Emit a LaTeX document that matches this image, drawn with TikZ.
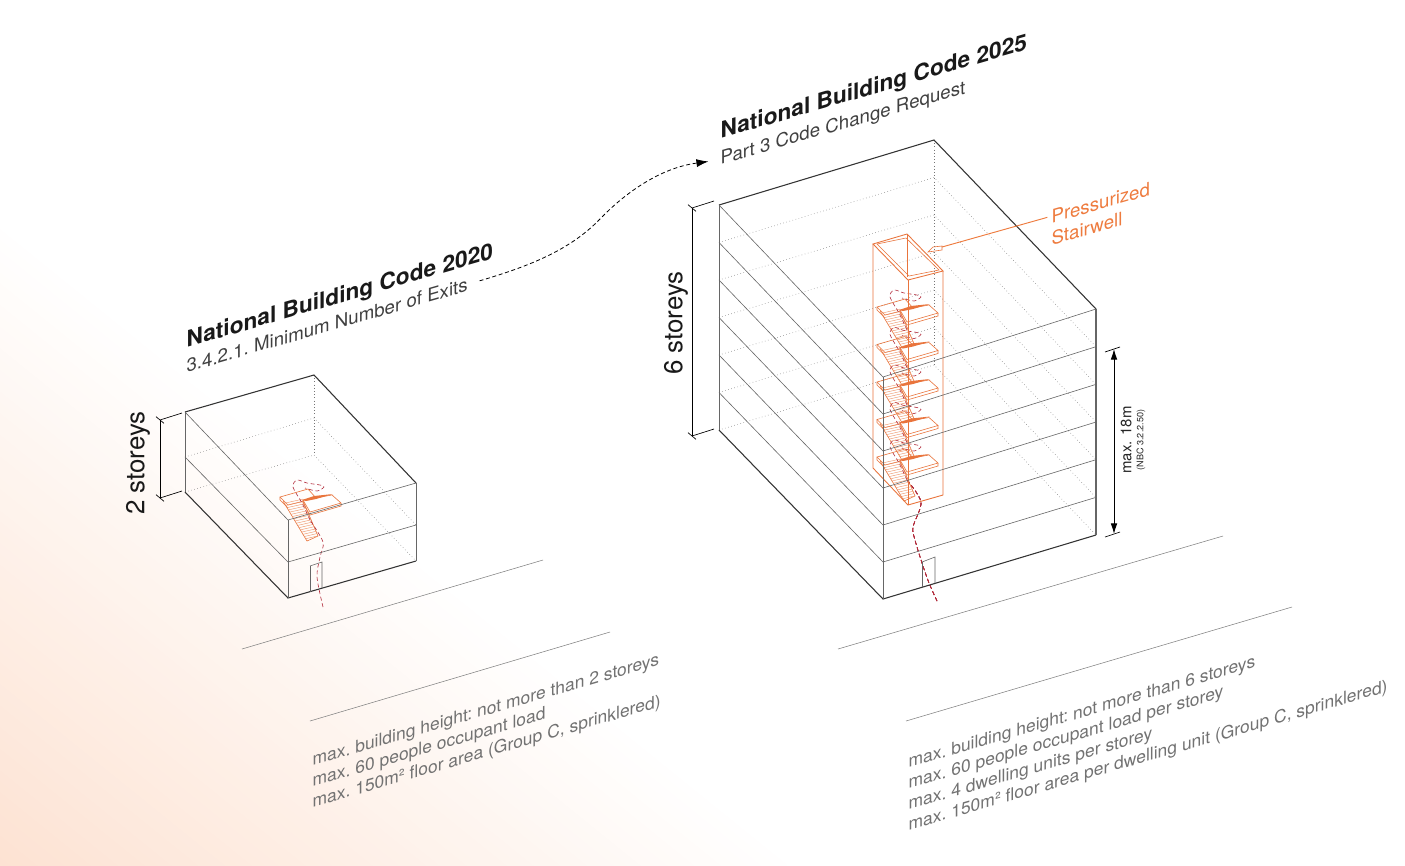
\documentclass[tikz,border=0pt]{standalone}
\usepackage{fontspec}
\setmainfont{TeX Gyre Heros}
\usetikzlibrary{arrows.meta}
\definecolor{peach}{HTML}{FDE2D2}
\definecolor{stairorange}{HTML}{E9743C}
\definecolor{labelorange}{HTML}{EE7B3E}
\definecolor{routered}{HTML}{B22A3A}
\definecolor{textgray}{HTML}{727272}
\definecolor{edgegray}{HTML}{666666}
\newcommand{\stairset}{%
\draw[stairline] (280,497) -- (308,489) -- (316,498) -- (288,505) -- cycle;
\draw[stairline] (280,497) -- (280,500) -- (288,508);
\draw[stairline,fill=white] (303,500) -- (332,495) -- (341,503) -- (310,512) -- cycle;
\draw[stairline] (303,500) -- (303,503) -- (310,515) -- (341,506) -- (341,503);
\fill[stairorange] (302,500) -- (314,496) -- (333,494) -- (316,499) -- (306,501) -- cycle;
\draw[stairline] (283,501) -- (307,541) -- (318,536) -- (303,501);
\foreach \t in {1,...,17}
  \draw[treadline] ({283+\t*1.33},{501+\t*2.22}) -- ++({19-\t*0.4},{-4.2+\t*0.08});
\draw[route] plot[smooth] coordinates {(310,520) (302,503) (293,487) (297,480) (307,483) (320,485) (324,487) (317,491) (305,488)};
}
\begin{document}
\begin{tikzpicture}[x=0.75pt,y=-0.75pt,
  hidden/.style={edgegray!90,dotted,line width=0.4pt},
  floorline/.style={edgegray,line width=0.45pt},
  edge/.style={black!80,line width=0.8pt},
  corner/.style={edgegray,line width=0.7pt},
  stairline/.style={stairorange,line width=0.45pt},
  treadline/.style={stairorange!80,line width=0.3pt},
  shaft/.style={stairorange,line width=0.65pt},
  route/.style={routered,densely dashed,line width=0.45pt},
  street/.style={gray,line width=0.4pt},
  iso/.style={transform shape,yslant=0.29,anchor=base west,inner sep=1pt},
  heading/.style={iso,font=\fontsize{17}{20}\selectfont\bfseries\frenchspacing,text=black!90},
  subheading/.style={iso,font=\fontsize{14}{17}\selectfont\frenchspacing,text=black!75},
  rules/.style={iso,font=\fontsize{13.1}{15.7}\selectfont\frenchspacing,text=textgray,align=left},
  orangelabel/.style={iso,font=\fontsize{14}{17}\selectfont,text=labelorange},
  storeylabel/.style={rotate=90,font=\fontsize{19.4}{22}\selectfont,text=black!90}]
\useasboundingbox (0,0) rectangle (1405,865);
\fill[white] (0,0) rectangle (1405,865);
\begin{scope}
\clip (0,0) rectangle (1405,865);
\foreach \i [evaluate=\i as \mix using \i*100/60, evaluate=\i as \px using 400-0.63*\i*8.4, evaluate=\i as \py using 542+0.78*\i*8.4] in {1,...,60}
  \fill[peach!\mix!white] ({\px+1170},{\py+945}) -- ({\px-1170},{\py-945}) -- ({\px-1170-945},{\py-945+1170}) -- ({\px+1170-945},{\py+945+1170}) -- cycle;
\end{scope}
% small building
\draw[hidden] (185,457) -- (314,418) -- (416,525);
\draw[hidden] (185,492) -- (314,455) -- (416,561);
\draw[hidden] (314,375) -- (314,455);
\begin{scope}
\stairset
\end{scope}
\draw[route] plot[smooth] coordinates {(323,607) (317,577) (320,557) (323,542) (310,520)};
\draw[edge] (185,412) -- (314,375) -- (416,483);
\draw[edge] (185,492) -- (288,598) -- (416,561);
\draw[corner] (185,412) -- (185,492);
\draw[corner] (288,520) -- (288,598);
\draw[corner] (416,483) -- (416,561);
\draw[floorline] (185,412) -- (288,520) -- (416,483);
\draw[floorline] (185,457) -- (288,562) -- (416,525);
\draw[floorline] (310,566) -- (322,562) -- (322,588);
\draw[floorline] (310,566) -- (310,592);
% large building
\foreach \n in {1,...,6}
  \draw[hidden] (719,{205+37.5*\n}) -- (934,{140+37.5*\n}) -- (1096,{309+37.67*\n});
\draw[hidden] (934,140) -- (934,365);
\foreach \k in {0,...,4}
  \begin{scope}[shift={(597,{-190+37.5*\k})}]
  \stairset
  \end{scope}
\draw[route] plot[smooth] coordinates {(937,601) (929,583) (922,563) (915,540) (913,527) (921,502) (907,480)};
\draw[shaft] (873,244) -- (907,234) -- (943,271) -- (908,280) -- cycle;
\draw[stairline] (877,244) -- (906,238) -- (939,270) -- (909,276) -- cycle;
\draw[stairline] (907,234) -- (907,277);
\draw[shaft] (873,244) -- (873,468) -- (908,505) -- (943,495) -- (943,271);
\draw[shaft] (908,280) -- (908,505);
\foreach \n in {1,...,5}
  \draw[floorline] (719,{205+37.5*\n}) -- (883,{377+37*\n}) -- (1096,{309+37.67*\n});
\draw[edge] (719,205) -- (934,140) -- (1096,309);
\draw[floorline] (719,205) -- (883,377) -- (1096,309);
\draw[edge] (719,430) -- (883,599) -- (1096,535);
\draw[corner] (719,205) -- (719,430);
\draw[corner] (883,377) -- (883,599);
\draw[corner,line width=1pt] (1096,309) -- (1096,535);
\draw[floorline] (922,562) -- (935,557) -- (935,583);
\draw[floorline] (922,562) -- (922,587);
% street lines
\draw[street] (242,649) -- (543,560);
\draw[street] (310,721) -- (610,632);
\draw[street] (838,649) -- (1223,536);
\draw[street] (906,721) -- (1292,607);
% storey dimensions
\coordinate (twotop) at (160,420);
\coordinate (twobot) at (160,498);
\coordinate (sixtop) at (692,208);
\coordinate (sixbot) at (692,436);
\coordinate (maxtop) at (1114,349);
\coordinate (maxbot) at (1114,534);
\draw[black,line width=0.6pt] (twotop) -- (twobot);
\draw[black,line width=0.6pt] (sixtop) -- (sixbot);
\foreach \p in {twotop,twobot,sixtop,sixbot}{
  \draw[black,line width=0.5pt] ([xshift=-3pt,yshift=2.5pt]\p) -- ([xshift=3pt,yshift=-2.5pt]\p);
  \draw[black,line width=0.5pt] (\p) -- ++(22,-7);
}
\draw[black,line width=0.7pt,{Latex[length=8pt,width=5pt]}-{Latex[length=8pt,width=5pt]}] (maxtop) -- (maxbot);
\draw[black,line width=0.5pt] (1105,352) -- (1120,347);
\draw[black,line width=0.5pt] (1105,537) -- (1120,532);
\node[storeylabel] (twolabel) at (138,463) {2 storeys};
\node[storeylabel] (sixlabel) at (676,323) {6 storeys};
\node[rotate=90,align=center,font=\fontsize{11.2}{10}\selectfont,text=black!85] (maxlabel) at (1133,440) {max. 18m\\[-1pt]{\fontsize{6.8}{7}\selectfont (NBC 3.2.2.50)}};
% headings
\node[heading] (code2020) at (185,348) {National Building Code 2020};
\node[subheading] (sub2020) at (185,373) {3.4.2.1. Minimum Number of Exits};
\node[heading] (code2025) at (719,139) {National Building Code 2025};
\node[subheading] (sub2025) at (719,165) {Part 3 Code Change Request};
\draw[black,line width=0.6pt,densely dashed,shorten <=8pt,shorten >=8pt,-{Latex[length=9pt,width=6pt]}] (sub2020.east) .. controls (530,266) and (570,250) .. (600,219) .. controls (625,193) and (660,168) .. (sub2025.west);
% stairwell label
\node[orangelabel] (pressurized) at (1050,224) {Pressurized};
\node[orangelabel] (stairwell) at (1050,246) {Stairwell};
\coordinate (tag) at (942,247);
\draw[labelorange,line width=0.7pt] (tag) -- ([xshift=-2pt]pressurized.west);
\draw[stairline] (928,252) -- (933,247) -- (942,246) -- (942,250) -- cycle;
% requirements
\node[rules] (rules2020) at (311,808) {max. building height: not more than 2 storeys\\max. 60 people occupant load\\max. 150m² floor area (Group C, sprinklered)};
\node[rules] (rules2025) at (907,831) {max. building height: not more than 6 storeys\\max. 60 people occupant load per storey\\max. 4 dwelling units per storey\\max. 150m² floor area per dwelling unit (Group C, sprinklered)};
\end{tikzpicture}
\end{document}
